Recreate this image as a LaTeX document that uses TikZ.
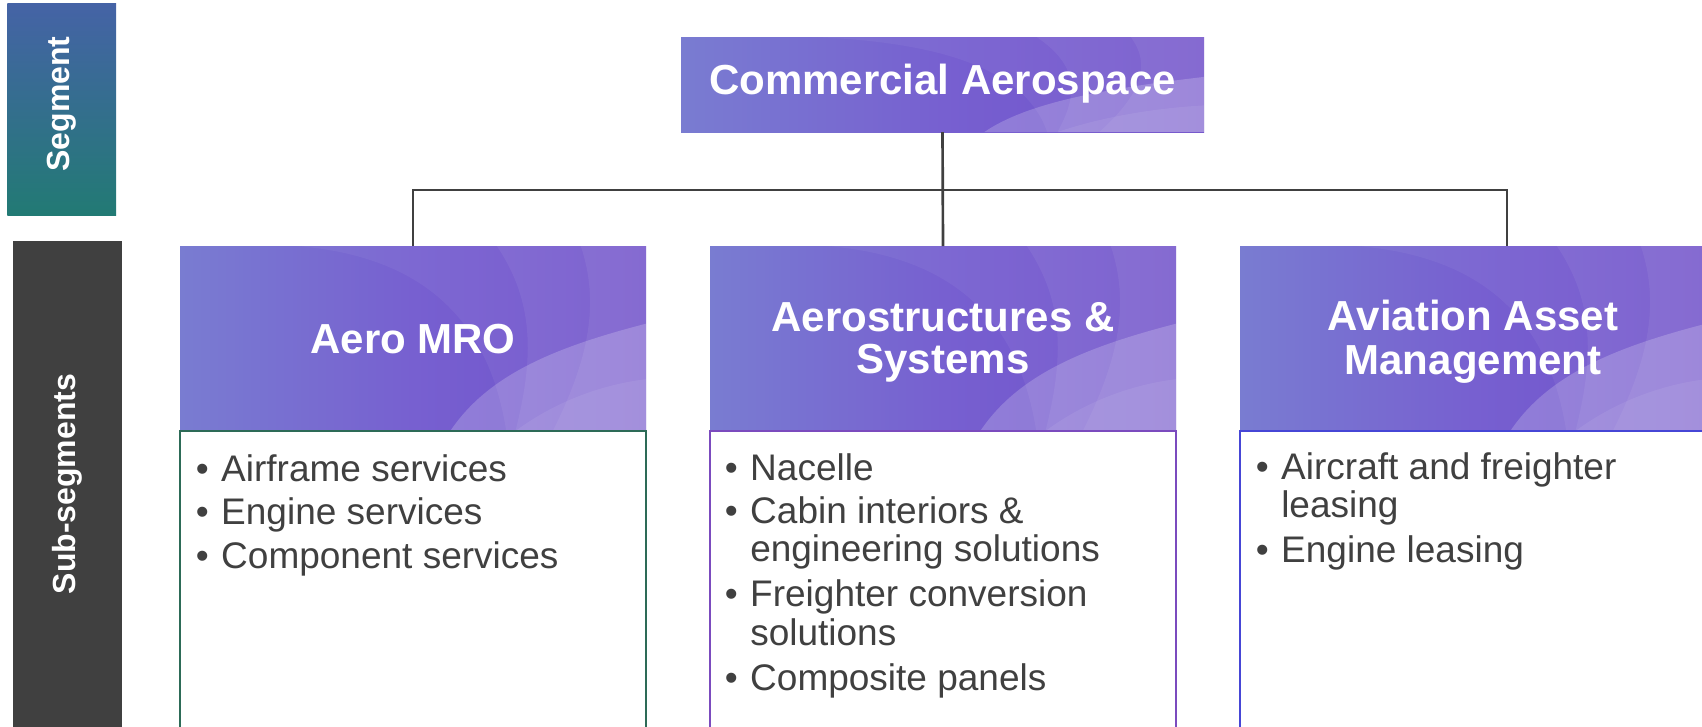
\documentclass[tikz,border=0pt]{standalone}
\usepackage{fontspec}
\setmainfont{Liberation Sans}
\definecolor{segTop}{HTML}{4563A6}
\definecolor{segBot}{HTML}{227A74}
\definecolor{subBG}{HTML}{404040}
\definecolor{lineC}{HTML}{404040}
\definecolor{txtC}{HTML}{404040}
\definecolor{hL}{HTML}{797CD1}
\definecolor{hM}{HTML}{7760D0}
\definecolor{hR}{HTML}{6F50CB}
\definecolor{mroB}{HTML}{2D6B57}
\definecolor{asB}{HTML}{7B4BBE}
\definecolor{aamB}{HTML}{4646D6}
\newcommand\hdrpaint[4]{%
  \begin{scope}[shift={(#1,#2)},xscale=#3,yscale=#4]
    \clip (0,0) rectangle (1,1);
    \shade[left color=hL,right color=hR,middle color=hM] (0,0) rectangle (1,1);
    \fill[white,opacity=.05] (0.25,0) .. controls (0.5,0.05) and (0.66,0.35) .. (0.7,1) -- (1,1) -- (1,0) -- cycle;
    \fill[white,opacity=.06] (0.68,0) .. controls (0.76,0.3) and (0.76,0.6) .. (0.72,1) -- (1,1) -- (1,0) -- cycle;
    \fill[white,opacity=.06] (0.86,0) .. controls (0.9,0.3) and (0.88,0.6) .. (0.8,1) -- (1,1) -- (1,0) -- cycle;
    \fill[white,opacity=.20] (0.58,1) .. controls (0.66,0.7) and (0.8,0.55) .. (1,0.42) -- (1,1) -- cycle;
    \fill[white,opacity=.07] (0.72,1) .. controls (0.8,0.85) and (0.9,0.75) .. (1,0.72) -- (1,1) -- cycle;
  \end{scope}}
\begin{document}
\begin{tikzpicture}[x=0.75pt,y=-0.75pt,
  boxshape/.style={rectangle,inner sep=0pt,outer sep=0pt},
  hdrtext/.style={inner sep=0pt,text=white,font=\fontsize{31.5}{31.5}\selectfont\bfseries,anchor=base},
  sidetext/.style={inner sep=0pt,text=white,font=\fontsize{24}{24}\selectfont\bfseries,rotate=90},
  bodytext/.style={inner sep=0pt,text=txtC,font=\fontsize{27.75}{28.8}\selectfont,anchor=base west},
  bodybox/.style={boxshape,line width=1.5pt,fill=white,minimum width=349.5pt,minimum height=235.5pt},
  conn/.style={draw=lineC,line width=2pt}]
\useasboundingbox (0,0) rectangle (1702,726);

% side labels
\node[boxshape,top color=segTop,bottom color=segBot,minimum width=81.4pt,minimum height=159pt] (segbox) at (61.75,109) {};
\node[sidetext] (segtxt) at (62,104) {Segment};
\node[boxshape,fill=subBG,minimum width=81.75pt,minimum height=366.75pt] (subbox) at (67.5,485.5) {};
\node[sidetext] (subtxt) at (67.5,484) {Sub-segments};

% header backgrounds
\hdrpaint{681}{37}{523}{95}
\hdrpaint{180}{246}{466}{185}
\hdrpaint{710}{246}{466}{185}
\hdrpaint{1240}{246}{466}{185}

% box nodes
\node[boxshape,minimum width=392.25pt,minimum height=71.25pt] (ca) at (942.5,84.5) {};
\node[boxshape,minimum width=349.5pt,minimum height=138.75pt] (mro) at (413,338.5) {};
\node[boxshape,minimum width=349.5pt,minimum height=138.75pt] (as) at (943,338.5) {};
\node[boxshape,minimum width=349.5pt,minimum height=138.75pt] (aam) at (1473,338.5) {};

% body boxes
\node[bodybox,draw=mroB] (mrobody) at (413,588) {};
\node[bodybox,draw=asB] (asbody) at (943,588) {};
\node[bodybox,draw=aamB] (aambody) at (1473,588) {};

% header texts
\node[hdrtext] (catxt) at (942.5,94) {Commercial Aerospace};
\node[hdrtext] (mrotxt) at (413,353) {Aero MRO};
\node[hdrtext] (astxt1) at (943,331) {Aerostructures \&};
\node[hdrtext] (astxt2) at (943,373) {Systems};
\node[hdrtext] (aamtxt1) at (1473,330) {Aviation Asset};
\node[hdrtext] (aamtxt2) at (1473,374) {Management};

% connectors
\coordinate (bus) at (942,190);
\coordinate (aamtap) at ([xshift=25.5pt]aam.north);
\draw[conn] (ca.south) -- (as.north);
\draw[conn] (mro.north) -- (mro.north |- bus) -- (aamtap |- bus) -- (aamtap);

% body items: Aero MRO
\node[bodytext] (m1) at (195.5,481) {\makebox[19.1pt][l]{•}Airframe services};
\node[bodytext] (m2) at (195.5,524) {\makebox[19.1pt][l]{•}Engine services};
\node[bodytext] (m3) at (195.5,568) {\makebox[19.1pt][l]{•}Component services};

% body items: Aerostructures & Systems
\node[bodytext] (a1) at (724.5,480) {\makebox[19.1pt][l]{•}Nacelle};
\node[bodytext] (a2) at (724.5,523) {\makebox[19.1pt][l]{•}Cabin interiors \&};
\node[bodytext] (a2b) at (750,561.5) {engineering solutions};
\node[bodytext] (a3) at (724.5,606.5) {\makebox[19.1pt][l]{•}Freighter conversion};
\node[bodytext] (a3b) at (750,645) {solutions};
\node[bodytext] (a4) at (724.5,690) {\makebox[19.1pt][l]{•}Composite panels};

% body items: Aviation Asset Management
\node[bodytext] (v1) at (1255.5,479) {\makebox[19.1pt][l]{•}Aircraft and freighter};
\node[bodytext] (v1b) at (1281,517.5) {leasing};
\node[bodytext] (v2) at (1255.5,562) {\makebox[19.1pt][l]{•}Engine leasing};
\end{tikzpicture}
\end{document}
